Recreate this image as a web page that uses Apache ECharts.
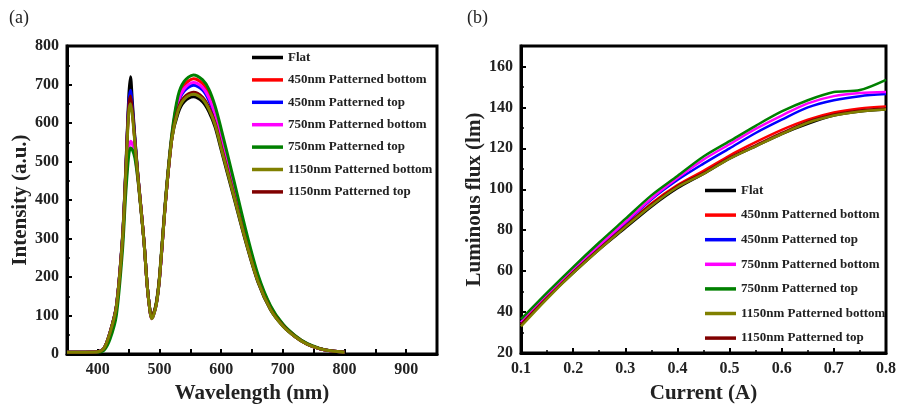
<!DOCTYPE html>
<html>
<head>
<meta charset="utf-8">
<script src="https://cdn.jsdelivr.net/npm/echarts@6/dist/echarts.min.js"></script>
<style>
    html, body { margin: 0; padding: 0; background: #fff; }
    #chart { width: 899px; height: 409px; }
</style>
</head>
<body>
<div id="chart"></div>
<script>
// (a) 光谱
const names = ['Flat', '450nm Patterned bottom', '450nm Patterned top', '750nm Patterned bottom',
    '750nm Patterned top', '1150nm Patterned bottom', '1150nm Patterned top'];
const colors = ['#000000', '#ff0000', '#0000ff', '#ff00ff', '#008000', '#808000', '#800000'];

const wavelength = [350, 380, 400, 410, 420, 430, 440, 445, 450, 453, 456, 460, 465, 470, 475, 480, 484, 487, 490, 495,
    500, 510, 520, 530, 540, 555, 570, 580, 590, 600, 620, 640, 660, 680, 700, 720, 740, 760, 780, 800];
const specFlat = [5, 5, 6, 15, 58, 125, 305, 470, 665, 720, 655, 565, 465, 380, 290, 180, 120, 93, 100, 130,
    195, 400, 560, 625, 655, 668, 655, 630, 590, 530, 410, 290, 185, 115, 73, 45, 25, 14, 8, 5];
const spec450b = [5, 5, 6, 15, 57, 123, 300, 462, 640, 665, 630, 555, 462, 378, 290, 180, 120, 94, 102, 133,
    198, 402, 565, 662, 698, 715, 702, 676, 633, 572, 444, 313, 199, 123, 77, 47, 26, 14, 8, 5];
const spec450t = [5, 5, 6, 15, 57, 123, 302, 465, 650, 685, 640, 560, 463, 378, 290, 180, 120, 94, 101, 132,
    197, 401, 562, 650, 683, 698, 685, 659, 617, 555, 430, 303, 193, 120, 76, 46, 26, 14, 8, 5];
const spec750b = [5, 5, 6, 14, 55, 118, 290, 430, 530, 553, 545, 520, 455, 375, 288, 178, 118, 92, 100, 132,
    197, 401, 563, 655, 689, 705, 692, 666, 624, 562, 436, 307, 196, 121, 76, 46, 26, 14, 8, 5];
const spec750t = [5, 5, 5, 10, 40, 100, 270, 410, 515, 535, 530, 510, 452, 372, 288, 180, 120, 95, 103, 136,
    202, 408, 572, 670, 708, 725, 712, 688, 645, 585, 455, 322, 205, 126, 78, 48, 27, 15, 8, 5];
const spec1150b = [5, 5, 6, 15, 57, 122, 298, 458, 625, 650, 620, 550, 460, 376, 288, 178, 118, 92, 99, 130,
    196, 400, 558, 631, 662, 675, 662, 636, 596, 535, 414, 293, 187, 116, 73, 45, 25, 14, 8, 5];
const spec1150t = [5, 5, 6, 15, 57, 123, 300, 462, 640, 670, 632, 555, 462, 378, 290, 180, 120, 96, 103, 133,
    198, 400, 558, 636, 667, 680, 667, 641, 601, 540, 418, 295, 188, 117, 74, 45, 25, 14, 8, 5];

// (b) 光通量
const current = [0.1, 0.15, 0.2, 0.25, 0.3, 0.35, 0.4, 0.45, 0.5, 0.55, 0.6, 0.65, 0.7, 0.75, 0.8];
const fluxFlat = [34, 47, 59, 70.5, 81, 91.5, 100.5, 107.5, 115, 121, 127, 132, 136, 138, 139];
const flux450b = [34, 47, 60, 71, 82, 93, 102, 109, 116.5, 123, 129, 134, 137.5, 139.5, 140.5];
const flux450t = [35, 48, 60.5, 72, 83.5, 95, 104.5, 112.5, 120, 127.5, 134, 140, 143.5, 145.5, 146.5];
const flux750b = [35, 48, 61, 72.5, 84, 95.5, 105.5, 114.5, 122, 129.5, 136, 142, 145.5, 147, 147.5];
const flux750t = [36.5, 49.5, 62, 74, 85.5, 97, 106.5, 116, 123.5, 131, 138, 143.5, 147.5, 148.5, 153.5];
const flux1150b = [33, 46.5, 59, 70.5, 81.5, 92, 101, 107.5, 115, 121, 127, 132.5, 136, 138, 139];
const flux1150t = [34, 47, 59.5, 71, 82, 92.5, 101.5, 108, 115.5, 121.5, 127.5, 133, 136.5, 138.5, 139.5];

const specData = [specFlat, spec450b, spec450t, spec750b, spec750t, spec1150b, spec1150t];
const fluxData = [fluxFlat, flux450b, flux450t, flux750b, flux750t, flux1150b, flux1150t];

const font = "'Liberation Serif', 'Times New Roman', serif";

function pairs(xs, ys) {
    return xs.map((x, i) => [x, ys[i]]);
}

function axisCommon() {
    return {
        axisLine: { show: true, onZero: false, lineStyle: { color: '#000', width: 3 } },
        axisTick: { show: true, inside: true, length: 5, lineStyle: { color: '#000', width: 2 } },
        minorTick: { show: true, splitNumber: 2, length: 3, lineStyle: { color: '#000', width: 1.5 } },
        splitLine: { show: false },
        axisLabel: { color: '#222', fontFamily: font, fontWeight: 'bold', fontSize: 16 },
        nameLocation: 'middle',
        nameTextStyle: { color: '#222', fontFamily: font, fontWeight: 'bold', fontSize: 21 }
    };
}

var series = [];
names.forEach((n, i) => {
    series.push({
        name: n,
        type: 'line',
        xAxisIndex: 0,
        yAxisIndex: 0,
        data: pairs(wavelength, specData[i]),
        symbol: 'none',
        smooth: 0.3,
        z: n === '1150nm Patterned bottom' ? 4 : 3,
        lineStyle: { color: colors[i], width: 3 },
        itemStyle: { color: colors[i] }
    });
});
names.forEach((n, i) => {
    series.push({
        name: n,
        type: 'line',
        xAxisIndex: 1,
        yAxisIndex: 1,
        data: pairs(current, fluxData[i]),
        symbol: 'none',
        smooth: 0.3,
        z: n === '1150nm Patterned bottom' ? 4 : 3,
        lineStyle: { color: colors[i], width: 2.5 },
        itemStyle: { color: colors[i] }
    });
});

const legendCommon = {
    orient: 'vertical',
    data: names,
    icon: 'rect',
    itemWidth: 31,
    itemHeight: 3.5,
    padding: 0,
    selectedMode: false,
    textStyle: { color: '#222', fontFamily: font, fontWeight: 'bold', fontSize: 13 }
};

var myChart = echarts.init(document.getElementById('chart'));
const option = {
    animation: false,
    backgroundColor: '#fff',
    title: [
        { text: '(a)', left: 4, top: 4, textStyle: { fontFamily: font, fontWeight: 'normal', fontSize: 18, color: '#222' } },
        { text: '(b)', left: 462, top: 4, textStyle: { fontFamily: font, fontWeight: 'normal', fontSize: 18, color: '#222' } }
    ],
    legend: [
        Object.assign({}, legendCommon, { left: 252, top: 51, itemGap: 9.4 }),
        Object.assign({}, legendCommon, { left: 705, top: 184, itemGap: 11.6 })
    ],
    grid: [
        { left: 67, top: 46, width: 370, height: 310, show: true, borderColor: '#000', borderWidth: 3 },
        { left: 521, top: 46, width: 366, height: 307, show: true, borderColor: '#000', borderWidth: 3 }
    ],
    xAxis: [
        Object.assign(axisCommon(), {
            gridIndex: 0, type: 'value', min: 350, max: 950, interval: 50,
            name: 'Wavelength (nm)', nameGap: 26,
            axisLabel: Object.assign(axisCommon().axisLabel, {
                formatter: v => (v % 100 === 0 ? String(v) : '')
            }),
            minorTick: { show: false }
        }),
        Object.assign(axisCommon(), {
            gridIndex: 1, type: 'value', min: 0.1, max: 0.8, interval: 0.1,
            name: 'Current (A)', nameGap: 30
        })
    ],
    yAxis: [
        Object.assign(axisCommon(), {
            gridIndex: 0, type: 'value', min: 0, max: 800, interval: 100,
            name: 'Intensity (a.u.)', nameGap: 35
        }),
        Object.assign(axisCommon(), {
            gridIndex: 1, type: 'value', min: 20, max: 170, interval: 20,
            name: 'Luminous flux (lm)', nameGap: 35,
            axisLabel: Object.assign(axisCommon().axisLabel, { showMaxLabel: false })
        })
    ],
    series: series
};
myChart.setOption(option);
</script>
</body>
</html>
